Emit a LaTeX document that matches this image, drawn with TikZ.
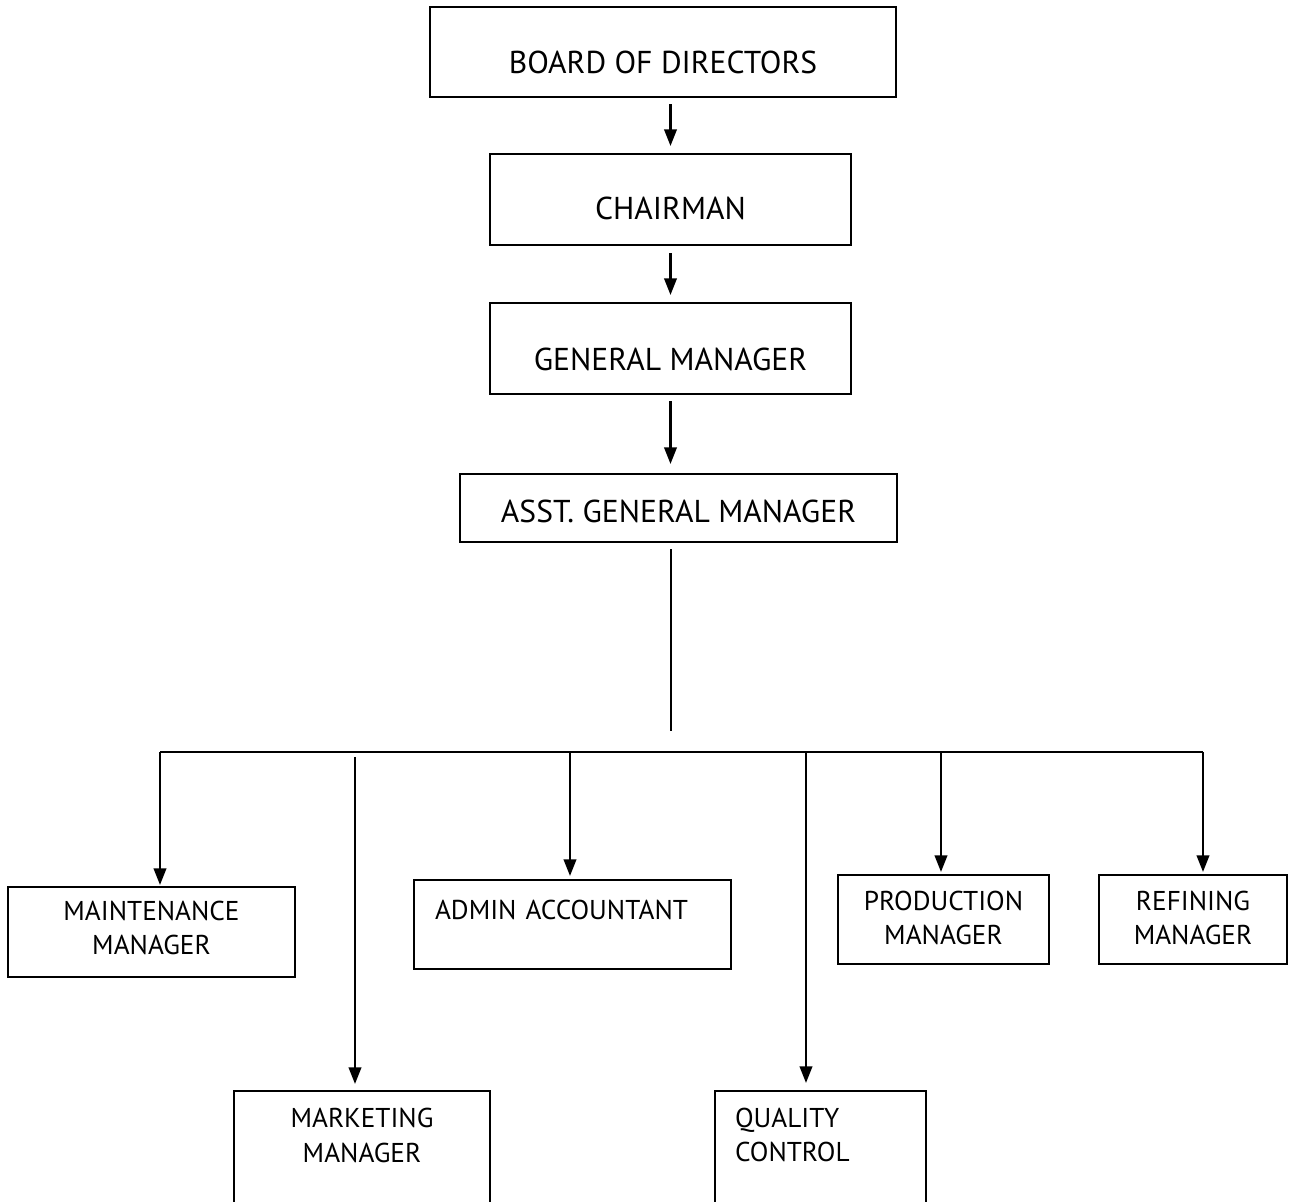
\documentclass[tikz,border=0pt]{standalone}
\usepackage{fontspec}
\setmainfont{PT Sans}
\usetikzlibrary{arrows.meta}

\begin{document}
\begin{tikzpicture}[
    x=0.02cm, y=-0.02cm,
    post/.style={draw, line width=1.2pt, font=\fontsize{18}{21}\selectfont,
                 inner sep=0pt, text depth=0pt},
    unit/.style={draw, line width=1.2pt, font=\fontsize{15.5}{19.4}\selectfont,
                 align=center, inner sep=0pt, text depth=0pt},
    line/.style={line width=1.2pt, -{Triangle[length=3.3mm,width=2.5mm]}},
    link/.style={line width=1.2pt}
]
\useasboundingbox (0,0) rectangle (1296,1202);

% top of the chart
\node[post, minimum width=9.32cm, minimum height=1.8cm, text height=0.88cm] (board) at (663,52) {BOARD OF DIRECTORS};
\node[post, minimum width=7.22cm, minimum height=1.82cm, text height=0.82cm] (chair) at (670.5,199.5) {CHAIRMAN};
\node[post, minimum width=7.22cm, minimum height=1.82cm, text height=0.9cm] (gm) at (670.5,348.5) {GENERAL MANAGER};
\node[post, minimum width=8.74cm, minimum height=1.36cm, text height=0.6cm] (agm) at (678.5,508) {ASST. GENERAL MANAGER};

% departments
\node[unit, minimum width=5.74cm, minimum height=1.8cm, text height=0.92cm] (maint) at (151.5,932) {MAINTENANCE\\MANAGER};
\node[unit, minimum width=6.34cm, minimum height=1.78cm, text height=0pt, text depth=0.22cm,
      align=left, text width=5.5cm, inner xsep=0.42cm] (admin) at (572.5,924.5) {ADMIN ACCOUNTANT};
\node[unit, minimum width=4.22cm, minimum height=1.78cm, text height=1.02cm] (prod) at (943.5,919.5) {PRODUCTION\\MANAGER};
\node[unit, minimum width=3.76cm, minimum height=1.78cm, text height=1.02cm] (refin) at (1193,919.5) {REFINING\\MANAGER};
\node[unit, minimum width=5.12cm, minimum height=2.8cm, text height=0.04cm] (mkt) at (362,1161) {MARKETING\\MANAGER};
\node[unit, minimum width=4.22cm, minimum height=2.8cm, text height=0pt, text depth=1.36cm,
      align=left, text width=3.42cm, inner xsep=0.4cm] (qc) at (820.5,1161) {QUALITY\\CONTROL};

% bus points
\coordinate (hub) at (671,731);
\coordinate (dropA) at (160,752);
\coordinate (dropB) at (355,757);
\coordinate (dropC) at (570,752);
\coordinate (dropD) at (806,752);
\coordinate (dropE) at (941,752);
\coordinate (dropF) at (1203,752);

\draw[line, shorten <=0.12cm, shorten >=0.14cm] (board.south -| chair.north) -- (chair.north);
\draw[line, shorten <=0.14cm, shorten >=0.14cm] (chair.south) -- (gm.north -| chair.south);
\draw[line, shorten <=0.12cm, shorten >=0.18cm] (gm.south) -- (agm.north -| gm.south);
\draw[link, shorten <=0.12cm] (agm.south -| hub) -- (hub);

\draw[link] (dropA) -- (dropF);
\draw[line, shorten >=0.02cm] (dropA) -- (dropA |- maint.north);
\draw[line, shorten >=0.12cm] (dropB) -- (dropB |- mkt.north);
\draw[line, shorten >=0.06cm] (dropC) -- (dropC |- admin.north);
\draw[line, shorten >=0.14cm] (dropD) -- (dropD |- qc.north);
\draw[line, shorten >=0.04cm] (dropE) -- (dropE |- prod.north);
\draw[line, shorten >=0.04cm] (dropF) -- (dropF |- refin.north);
\end{tikzpicture}
\end{document}
